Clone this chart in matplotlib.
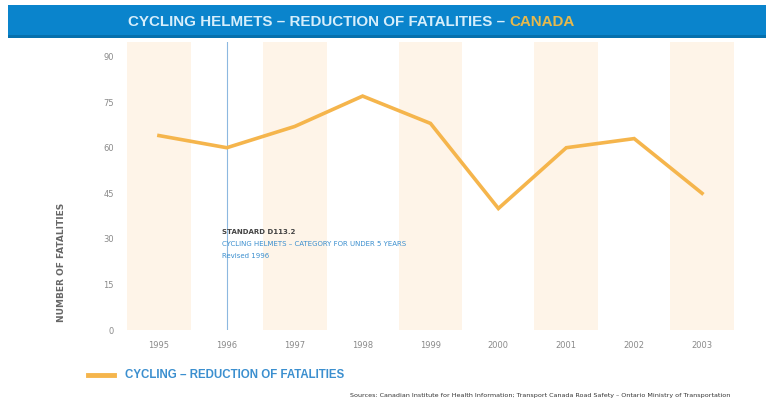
import matplotlib
matplotlib.use("Agg")
import matplotlib.pyplot as plt
from matplotlib.patches import Rectangle

years = ["1995", "1996", "1997", "1998", "1999", "2000", "2001", "2002", "2003"]
fatalities = [64, 60, 67, 77, 68, 40, 60, 63, 45]
y_ticks = [0, 15, 30, 45, 60, 75, 90]
band_years = ["1995", "1997", "1999", "2001", "2003"]
marker_year = "1996"

W, H = 766, 415
fig = plt.figure(figsize=(W / 100, H / 100), dpi=100)
fig.patch.set_facecolor("white")

# header bar
fig.patches.append(Rectangle((8 / W, 1 - 38 / H), (W - 8) / W, 33 / H,
                             transform=fig.transFigure, facecolor="#0a84cc",
                             edgecolor="none", zorder=0))
fig.patches.append(Rectangle((8 / W, 1 - 38 / H), (W - 8) / W, 3 / H,
                             transform=fig.transFigure, facecolor="#0670ad",
                             edgecolor="none", zorder=1))
t1 = fig.text(128 / W, 1 - 22 / H, "CYCLING HELMETS – REDUCTION OF FATALITIES – ",
              color="#d6eefb", fontsize=10.9, fontweight="bold", va="center",
              ha="left", family="Liberation Sans")
fig.canvas.draw()
bb = t1.get_window_extent()
fig.text(bb.x1 / W, 1 - 22 / H, "CANADA", color="#e6b94d", fontsize=10.9,
         fontweight="bold", va="center", ha="left", family="Liberation Sans")

ax = fig.add_axes([125 / W, 1 - 330 / H, (736 - 125) / W, (330 - 42) / H])
x = list(range(len(years)))
ax.set_xlim(-0.5, len(years) - 0.5)
ax.set_ylim(0, 94.8)

for by in band_years:
    i = years.index(by)
    ax.axvspan(i - 0.47, i + 0.47, color="#fef4e8", zorder=0, lw=0)

mi = years.index(marker_year)
ax.axvline(mi, color="#8db8e0", lw=0.8, zorder=1)

ax.plot(x, fatalities, color="#f5b54c", lw=2.6, solid_joinstyle="miter", zorder=3)

ax.set_xticks(x)
ax.set_xticklabels(years)
ax.set_yticks(y_ticks)
ax.set_yticklabels([str(v) for v in y_ticks])
ax.tick_params(axis="both", length=0, labelsize=6, labelcolor="#8a8a8a")
ax.tick_params(axis="x", pad=8)
ax.tick_params(axis="y", pad=8)
for s in ax.spines.values():
    s.set_visible(False)

fig.text(62 / W, 1 - 262 / H, "NUMBER OF FATALITIES", rotation=90, fontsize=6.5,
         color="#666666", ha="center", va="center", fontweight="bold")

# annotation
fig.text(222 / W, 1 - 232 / H, "STANDARD D113.2", fontsize=5, color="#444444",
         fontweight="bold", va="center")
fig.text(222 / W, 1 - 244 / H, "CYCLING HELMETS – CATEGORY FOR UNDER 5 YEARS",
         fontsize=5, color="#3b8fcf", va="center")
fig.text(222 / W, 1 - 256 / H, "Revised 1996", fontsize=5, color="#3b8fcf",
         va="center")

# legend
fig.lines.append(plt.Line2D([88 / W, 114 / W], [1 - 375 / H, 1 - 375 / H],
                            transform=fig.transFigure, color="#f5b54c", lw=3.5))
fig.text(125 / W, 1 - 375 / H, "CYCLING – REDUCTION OF FATALITIES", fontsize=8.3,
         color="#3b8fcf", va="center", family="Liberation Sans",
         fontweight="bold")

fig.text(730 / W, 1 - 395 / H,
         "Sources: Canadian Institute for Health Information; Transport Canada Road Safety – Ontario Ministry of Transportation",
         fontsize=4.6, color="#333333", ha="right", va="center")

fig.savefig("out.png", dpi=100)
